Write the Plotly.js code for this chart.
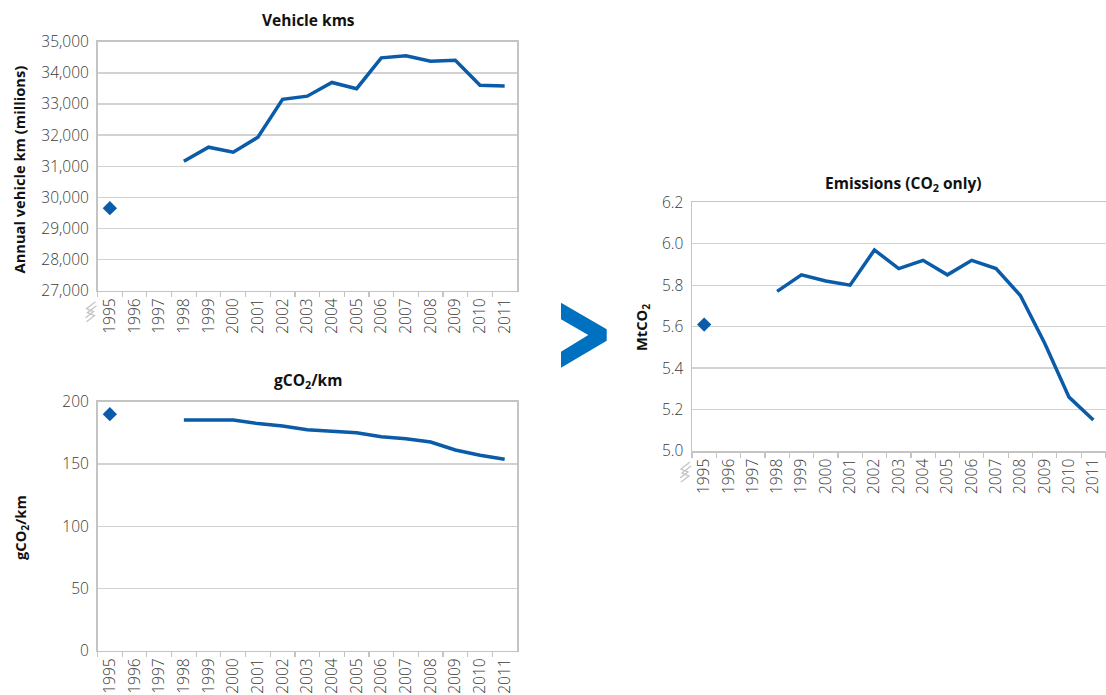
<!DOCTYPE html>
<html>
<head>
<meta charset="utf-8">
<script src="https://cdn.plot.ly/plotly-3.0.1.min.js"></script>
<style>
html, body { margin: 0; padding: 0; overflow: hidden; background: #fff; }
#chart { width: 1106px; height: 695px; }
</style>
</head>
<body>
<div id="chart"></div>
<script>
// ---- data ----
const years = ['1995','1996','1997','1998','1999','2000','2001','2002','2003','2004','2005','2006','2007','2008','2009','2010','2011'];
const vehicleKms = [29650, null, null, 31160, 31610, 31450, 31930, 33150, 33250, 33690, 33490, 34480, 34550, 34370, 34400, 33600, 33580];
const gco2PerKm = [190, null, null, 185.3, 185.3, 185.3, 182.4, 180.5, 177.5, 176.5, 175.1, 171.9, 170.3, 167.6, 161.2, 157.0, 153.7];
const emissionsMt = [5.61, null, null, 5.77, 5.85, 5.82, 5.80, 5.97, 5.88, 5.92, 5.85, 5.92, 5.88, 5.75, 5.52, 5.26, 5.15];

const titles = ['Vehicle kms', 'gCO<sub>2</sub>/km', 'Emissions (CO<sub>2</sub> only)'];
const yTitles = ['Annual vehicle km (millions)', 'gCO<sub>2</sub>/km', 'MtCO<sub>2</sub>'];

// ---- style ----
const W = 1106, H = 695;
const LINE = '#0A5BA8';
const GRID = '#d2d2d2';
const FRAME = '#c4c4c4';
const TICKTXT = '#3a3a3a';
const FONT = 'Open Sans, Noto Sans, sans-serif';

const px = x => x / W;
const py = y => 1 - y / H;

// plot boxes in pixels [left, right, top, bottom]
const boxes = [
  [97.5, 517, 41.7, 290.7],
  [97.5, 517, 401.7, 650.7],
  [692, 1105.5, 202.3, 451]
];

// points with no neighbours are drawn as single diamonds
function isolatedOnly(vals) {
  return vals.map((v, i) => {
    if (v === null) return null;
    const prev = i > 0 ? vals[i - 1] : null;
    const next = i < vals.length - 1 ? vals[i + 1] : null;
    return (prev === null && next === null) ? v : null;
  });
}

const series = [vehicleKms, gco2PerKm, emissionsMt];
const data = [];
series.forEach((vals, k) => {
  const xa = k === 0 ? 'x' : 'x' + (k + 1);
  const ya = k === 0 ? 'y' : 'y' + (k + 1);
  data.push({
    type: 'scatter', mode: 'lines', x: years, y: vals, xaxis: xa, yaxis: ya,
    connectgaps: false,
    line: { color: LINE, width: 3.5 },
    showlegend: false
  });
  data.push({
    type: 'scatter', mode: 'markers', x: years, y: isolatedOnly(vals), xaxis: xa, yaxis: ya,
    marker: { symbol: 'diamond', size: 11, color: LINE, opacity: 1, line: { width: 0 } },
    showlegend: false
  });
});

function xAxis(b) {
  return {
    type: 'category',
    domain: [px(b[0]), px(b[1])],
    range: [-0.5, years.length - 0.5],
    tickson: 'boundaries',
    ticks: 'outside', ticklen: 5, tickcolor: FRAME, tickwidth: 1.2,
    showline: true, linecolor: FRAME, linewidth: 1.5, mirror: true,
    showgrid: false, zeroline: false,
    tickangle: -90,
    tickfont: { family: FONT, size: 15.5, color: TICKTXT, weight: 300 },
    fixedrange: true
  };
}
function yAxis(b, range, dtick, fmt) {
  return {
    domain: [py(b[3]), py(b[2])],
    range: range,
    dtick: dtick,
    tick0: range[0],
    tickformat: fmt,
    ticks: 'outside', ticklen: 4, tickcolor: 'rgba(0,0,0,0)',
    showline: true, linecolor: FRAME, linewidth: 1.5, mirror: true,
    showgrid: true, gridcolor: GRID, gridwidth: 1.4,
    zeroline: false,
    tickfont: { family: FONT, size: 15.5, color: TICKTXT, weight: 300 },
    fixedrange: true
  };
}

const layout = {
  width: W, height: H,
  autosize: false,
  margin: { l: 0, r: 0, t: 0, b: 0 },
  paper_bgcolor: '#fff', plot_bgcolor: '#fff',
  font: { family: FONT },
  xaxis: Object.assign(xAxis(boxes[0]), { anchor: 'y' }),
  yaxis: Object.assign(yAxis(boxes[0], [27000, 35000], 1000, ','), { anchor: 'x' }),
  xaxis2: Object.assign(xAxis(boxes[1]), { anchor: 'y2' }),
  yaxis2: Object.assign(yAxis(boxes[1], [0, 200], 50, 'd'), { anchor: 'x2' }),
  xaxis3: Object.assign(xAxis(boxes[2]), { anchor: 'y3' }),
  yaxis3: Object.assign(yAxis(boxes[2], [5.0, 6.2], 0.2, '.1f'), { anchor: 'x3' }),
  annotations: [],
  shapes: []
};

// chart titles
const titlePos = [[308, 20], [308, 380], [903, 183]];
titles.forEach((t, i) => {
  layout.annotations.push({
    text: '<b>' + t + '</b>', xref: 'paper', yref: 'paper',
    x: px(titlePos[i][0]), y: py(titlePos[i][1]),
    xanchor: 'center', yanchor: 'middle', showarrow: false,
    font: { family: FONT, size: 15.5, color: '#111' }
  });
});
// y axis titles
const yTitlePos = [[18.5, 170], [21, 528], [642, 328]];
yTitles.forEach((t, i) => {
  layout.annotations.push({
    text: '<b>' + t + '</b>', xref: 'paper', yref: 'paper',
    x: px(yTitlePos[i][0]), y: py(yTitlePos[i][1]),
    xanchor: 'center', yanchor: 'middle', showarrow: false, textangle: -90,
    font: { family: FONT, size: 14.7, color: '#111' }
  });
});

// axis-break glyphs (charts 1 and 3)
function breakPath(x0, y0) {
  const pts1 = [[-2, 11], [-11, 18], [-4, 21], [-12, 27]];
  const pts2 = [[-1, 15], [-10, 22], [-3, 25], [-11, 31]];
  const toP = pts => pts.map((p, j) => (j ? 'L' : 'M') + px(x0 + p[0]) + ',' + py(y0 + p[1])).join(' ');
  return toP(pts1) + ' ' + toP(pts2);
}
[boxes[0], boxes[2]].forEach(b => {
  layout.shapes.push({
    type: 'path', xref: 'paper', yref: 'paper',
    path: breakPath(b[0], b[3]),
    line: { color: '#c4c4c4', width: 1.3 }
  });
});

// chevron ">" between panels
const chev = [[561, 302.7], [606.7, 329.3], [606.7, 340.7], [561, 367.7], [561, 351.7], [588.3, 335], [561, 319.3]];
layout.shapes.push({
  type: 'path', xref: 'paper', yref: 'paper',
  path: chev.map((p, j) => (j ? 'L' : 'M') + px(p[0]) + ',' + py(p[1])).join(' ') + ' Z',
  fillcolor: '#0070C0', line: { width: 0 }
});

Plotly.newPlot('chart', data, layout, { displayModeBar: false, staticPlot: true });
</script>
</body>
</html>
